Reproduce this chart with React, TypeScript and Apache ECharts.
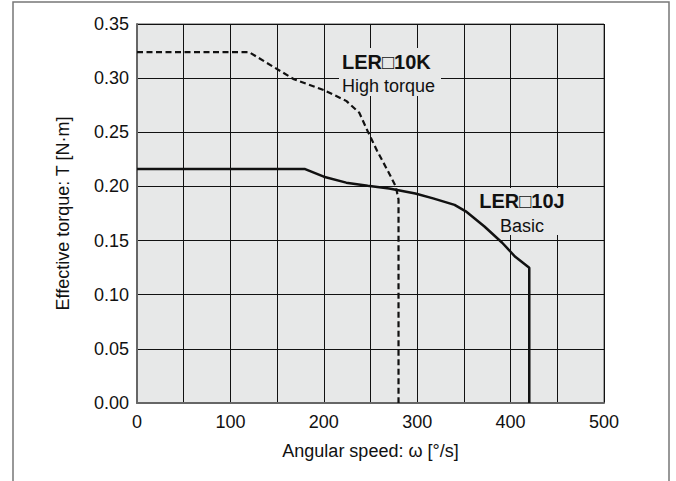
import React, { useEffect, useRef } from "react";
import * as echarts from "echarts";

const xTicks = [0, 100, 200, 300, 400, 500];
const highTorque: [number, number][] = [
  [0, 0.324], [120, 0.324], [168, 0.299], [200, 0.289], [224, 0.279], [238, 0.268],
  [247, 0.251], [257, 0.233], [270, 0.212], [277, 0.2], [280, 0.188], [280, 0],
];
const basic: [number, number][] = [
  [0, 0.216], [180, 0.216], [200, 0.209], [224, 0.2035], [247, 0.2007], [270, 0.198],
  [298, 0.1935], [317, 0.189], [340, 0.183], [352, 0.177], [372, 0.163], [391, 0.148],
  [405, 0.135], [420, 0.125], [420, 0],
];
const labelK = ["LER□10K", "High torque"];
const labelJ = ["LER□10J", "Basic"];

const FONT = '"Liberation Sans", Arial, Helvetica, sans-serif';
const PLOT_BG = "#e7e8e8";

export default function App() {
  const ref = useRef<HTMLDivElement>(null);
  useEffect(() => {
    if (!ref.current) return;
    const chart = echarts.init(ref.current, null, { renderer: "svg" });
    chart.setOption({
      animation: false,
      backgroundColor: "#ffffff",
      textStyle: { fontFamily: FONT },
      grid: {
        left: 137, top: 24, width: 467, height: 379,
        show: true, backgroundColor: PLOT_BG, borderColor: "#555", borderWidth: 1,
      },
      xAxis: {
        type: "value", min: 0, max: 500, interval: 50,
        name: "Angular speed: ω [°/s]", nameLocation: "middle", nameGap: 39,
        nameTextStyle: { fontSize: 18, color: "#111", fontFamily: FONT },
        axisLine: { show: true, lineStyle: { color: "#666", width: 2 } },
        axisTick: { show: false },
        axisLabel: {
          fontSize: 18, color: "#111", margin: 10, fontFamily: FONT,
          formatter: (v: number) => (xTicks.includes(v) ? String(v) : ""),
        },
        splitLine: { show: true, lineStyle: { color: "#111", width: 1 } },
      },
      yAxis: {
        type: "value", min: 0, max: 0.35, interval: 0.05,
        name: "Effective torque: T [N·m]", nameLocation: "middle", nameGap: 65,
        nameTextStyle: { fontSize: 18, color: "#111", fontFamily: FONT },
        axisLine: { show: true, lineStyle: { color: "#666", width: 2 } },
        axisTick: { show: false },
        axisLabel: {
          fontSize: 18, color: "#111", margin: 8, fontFamily: FONT,
          formatter: (v: number) => v.toFixed(2),
        },
        splitLine: { show: true, lineStyle: { color: "#111", width: 1 } },
      },
      graphic: [
        {
          type: "polyline", silent: true,
          shape: { points: [[13, 481], [13, 2], [669, 2], [669, 481]] },
          style: { stroke: "#777", lineWidth: 1.5, fill: "none" },
        },
        { type: "rect", shape: { x: 339, y: 48, width: 102, height: 48 }, style: { fill: PLOT_BG }, z: 5 },
        { type: "rect", shape: { x: 473, y: 188, width: 97, height: 47 }, style: { fill: PLOT_BG }, z: 5 },
        {
          type: "text", x: 342, y: 62, z: 6,
          style: { text: labelK[0], font: `bold 20px ${FONT}`, fill: "#111", textVerticalAlign: "middle" },
        },
        {
          type: "text", x: 342, y: 86, z: 6,
          style: { text: labelK[1], font: `18px ${FONT}`, fill: "#111", textVerticalAlign: "middle" },
        },
        {
          type: "text", x: 522, y: 201, z: 6,
          style: { text: labelJ[0], font: `bold 20px ${FONT}`, fill: "#111", textAlign: "center", textVerticalAlign: "middle" },
        },
        {
          type: "text", x: 522, y: 226, z: 6,
          style: { text: labelJ[1], font: `18px ${FONT}`, fill: "#111", textAlign: "center", textVerticalAlign: "middle" },
        },
      ],
      series: [
        {
          type: "line", data: highTorque, showSymbol: false, z: 10,
          lineStyle: { color: "#111", width: 2.2, type: [6, 3.5] },
        },
        {
          type: "line", data: basic, showSymbol: false, z: 10,
          lineStyle: { color: "#111", width: 2.5 },
        },
      ],
    });
    return () => chart.dispose();
  }, []);
  return (
    <div
      ref={ref}
      style={{ position: "fixed", left: 0, top: 0, width: 676, height: 481 }}
    />
  );
}
